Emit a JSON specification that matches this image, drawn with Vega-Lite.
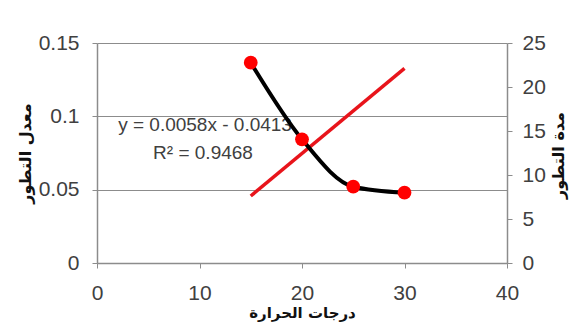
{
  "$schema": "https://vega.github.io/schema/vega-lite/v6.json",
  "width": 410,
  "height": 220,
  "autosize": {"type": "none"},
  "padding": {"left": 97, "top": 43, "right": 70, "bottom": 68},
  "background": "white",
  "config": {"view": {"stroke": null}, "font": "Liberation Sans"},
  "datasets": {
    "duration": [
      {"temp": 15, "days": 22.76},
      {"temp": 20, "days": 14.06},
      {"temp": 25, "days": 8.67},
      {"temp": 30, "days": 7.99}
    ],
    "trend": [
      {"temp": 15, "rate": 0.0457},
      {"temp": 30, "rate": 0.1327}
    ],
    "labels": [
      {"temp": 10.54, "rate": 0.0941, "text": "y = 0.0058x - 0.0413"},
      {"temp": 10.34, "rate": 0.075, "text": "R² = 0.9468"}
    ]
  },
  "encoding": {
    "x": {
      "field": "temp",
      "type": "quantitative",
      "scale": {"domain": [0, 40], "nice": false},
      "axis": {
        "values": [0, 10, 20, 30, 40],
        "title": "درجات الحرارة",
        "titleFont": "DejaVu Sans",
        "titleFontSize": 15,
        "titleFontWeight": "bold",
        "titleColor": "#111111",
        "titlePadding": 2,
        "labelFont": "Liberation Sans",
        "labelFontSize": 21,
        "labelColor": "#404040",
        "labelPadding": 14,
        "labelFlush": false,
        "tickSize": 5,
        "tickColor": "#8c8c8c",
        "domainColor": "#8c8c8c",
        "domainWidth": 1.5,
        "grid": false
      }
    }
  },
  "layer": [
    {
      "layer": [
        {
          "data": {"name": "trend"},
          "mark": {"type": "line", "color": "#e8141b", "strokeWidth": 3.5},
          "encoding": {
            "y": {
              "field": "rate",
              "type": "quantitative",
              "scale": {"domain": [0, 0.15], "nice": false},
              "axis": {
                "orient": "left",
                "values": [0, 0.05, 0.1, 0.15],
                "labelExpr": "format(datum.value, '~g')",
                "title": "معدل التطور",
                "titleFont": "DejaVu Sans",
                "titleFontSize": 16,
                "titleFontWeight": "bold",
                "titleColor": "#111111",
                "titlePadding": 5,
                "labelFont": "Liberation Sans",
                "labelFontSize": 21,
                "labelColor": "#404040",
                "labelPadding": 13,
                "tickSize": 5,
                "tickColor": "#8c8c8c",
                "domainColor": "#8c8c8c",
                "domainWidth": 1.5,
                "grid": true,
                "gridColor": "#8c8c8c",
                "gridWidth": 1
              }
            }
          }
        },
        {
          "data": {"name": "labels"},
          "mark": {"type": "text", "font": "Liberation Sans", "fontSize": 19, "color": "#404040", "align": "center", "baseline": "middle"},
          "encoding": {
            "y": {"field": "rate", "type": "quantitative"},
            "text": {"field": "text"}
          }
        }
      ]
    },
    {
      "data": {"name": "duration"},
      "layer": [
        {
          "mark": {"type": "line", "color": "#000000", "strokeWidth": 4, "interpolate": "monotone"},
          "encoding": {
            "y": {
              "field": "days",
              "type": "quantitative",
              "scale": {"domain": [0, 25], "nice": false},
              "axis": {
                "orient": "right",
                "values": [0, 5, 10, 15, 20, 25],
                "title": "مدة التطور",
                "titleFont": "DejaVu Sans",
                "titleFontSize": 16,
                "titleFontWeight": "bold",
                "titleColor": "#111111",
                "titleAngle": 270,
                "titleX": 51,
                "titleY": 112,
                "titleAlign": "center",
                "titleBaseline": "middle",
                "labelFont": "Liberation Sans",
                "labelFontSize": 21,
                "labelColor": "#404040",
                "labelPadding": 10,
                "tickSize": 5,
                "tickColor": "#8c8c8c",
                "domainColor": "#8c8c8c",
                "domainWidth": 1.5,
                "grid": false
              }
            }
          }
        },
        {
          "mark": {"type": "point", "filled": true, "color": "#ff0000", "size": 190, "opacity": 1, "shape": "circle"},
          "encoding": {
            "y": {"field": "days", "type": "quantitative"}
          }
        }
      ]
    }
  ],
  "resolve": {"scale": {"y": "independent"}}
}
